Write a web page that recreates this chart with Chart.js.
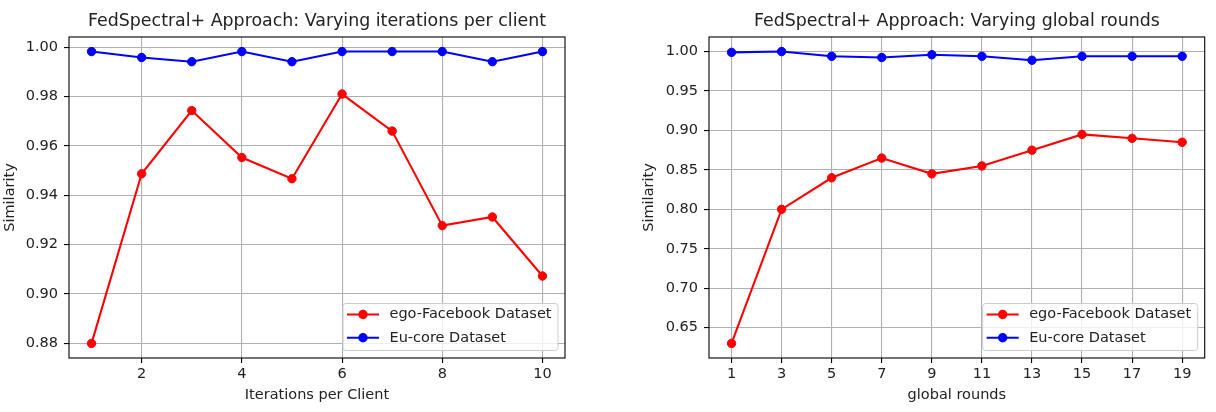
<!DOCTYPE html>
<html>
<head>
<meta charset="utf-8">
<script src="https://cdn.jsdelivr.net/npm/chart.js@4"></script>
<style>
  html, body { margin: 0; padding: 0; background: #fff; }
  #wrap { position: relative; width: 1216px; height: 412px; overflow: hidden; }
  .panel { position: absolute; top: 0; width: 608px; height: 412px; }
  #p1 { left: 0; }
  #p2 { left: 608px; }
</style>
</head>
<body>
<div id="wrap">
  <div class="panel" id="p1"><canvas id="c1" width="608" height="412"></canvas></div>
  <div class="panel" id="p2"><canvas id="c2" width="608" height="412"></canvas></div>
</div>
<script>
// ---- data ----
const iterCats = [1, 2, 3, 4, 5, 6, 7, 8, 9, 10];
const iterFacebook = [0.880, 0.9487, 0.9743, 0.9553, 0.9467, 0.981, 0.966, 0.9277, 0.9312, 0.9073];
const iterEucore = [0.9982, 0.9958, 0.9941, 0.9982, 0.9941, 0.9982, 0.9982, 0.9982, 0.9941, 0.9982];
const iterXTicks = [2, 4, 6, 8, 10];
const iterYTicks = [0.88, 0.90, 0.92, 0.94, 0.96, 0.98, 1.00];

const roundCats = [1, 3, 5, 7, 9, 11, 13, 15, 17, 19];
const roundFacebook = [0.63, 0.80, 0.84, 0.865, 0.845, 0.855, 0.875, 0.895, 0.89, 0.885];
const roundEucore = [0.999, 1.000, 0.994, 0.9925, 0.996, 0.994, 0.989, 0.994, 0.994, 0.994];
const roundXTicks = [1, 3, 5, 7, 9, 11, 13, 15, 17, 19];
const roundYTicks = [0.65, 0.70, 0.75, 0.80, 0.85, 0.90, 0.95, 1.00];

const seriesNames = ['ego-Facebook Dataset', 'Eu-core Dataset'];
const seriesColors = ['#ff0000', '#0000ff'];

const titles = ['FedSpectral+ Approach: Varying iterations per client', 'FedSpectral+ Approach: Varying global rounds'];
const xLabels = ['Iterations per Client', 'global rounds'];
const yLabel = 'Similarity';

// ---- helpers ----
const FONT = "'DejaVu Sans', 'Liberation Sans', sans-serif";
const TXT = '#222';
const FS = 14.5;
const TFS = 17.4;

function pad(lo, hi) { const m = (hi - lo) * 0.05; return [lo - m, hi + m]; }
function toXY(xs, ys) { return xs.map((x, i) => ({ x: x, y: ys[i] })); }

const framePlugin = {
  id: 'frameLegend',
  afterDatasetsDraw(chart) {
    const ctx = chart.ctx, a = chart.chartArea;
    ctx.save();
    // axes frame
    ctx.strokeStyle = '#000';
    ctx.lineWidth = 1.1;
    ctx.strokeRect(a.left, a.top, a.right - a.left, a.bottom - a.top);
    // legend (lower right)
    ctx.font = FS + 'px ' + FONT;
    const ds = chart.data.datasets;
    let tw = 0;
    ds.forEach(d => { tw = Math.max(tw, ctx.measureText(d.label).width); });
    const bw = tw + 53, bh = 47;
    const x1 = a.right - 7 - bw, y1 = a.bottom - 7.5 - bh;
    ctx.beginPath();
    if (ctx.roundRect) ctx.roundRect(x1, y1, bw, bh, 3); else ctx.rect(x1, y1, bw, bh);
    ctx.fillStyle = 'rgba(255,255,255,0.8)';
    ctx.fill();
    ctx.strokeStyle = '#cccccc';
    ctx.lineWidth = 1;
    ctx.stroke();
    ds.forEach((d, i) => {
      const cy = y1 + 11 + 23.3 * i;
      ctx.strokeStyle = d.borderColor;
      ctx.lineWidth = 2.08;
      ctx.beginPath();
      ctx.moveTo(x1 + 4, cy);
      ctx.lineTo(x1 + 36, cy);
      ctx.stroke();
      ctx.fillStyle = d.borderColor;
      ctx.beginPath();
      ctx.arc(x1 + 20, cy, 4.7, 0, Math.PI * 2);
      ctx.fill();
      ctx.fillStyle = TXT;
      ctx.textBaseline = 'middle';
      ctx.textAlign = 'left';
      ctx.fillText(d.label, x1 + 46.5, cy);
    });
    ctx.restore();
  }
};

function makeChart(canvasId, idx, xs, s1, s2, xTicks, yTicks, padL, yW, padR) {
  const xr = pad(Math.min(...xs), Math.max(...xs));
  const allY = s1.concat(s2);
  const yr = pad(Math.min(...allY), Math.max(...allY));
  const mkDs = (vals, k) => ({
    label: seriesNames[k],
    data: toXY(xs, vals),
    borderColor: seriesColors[k],
    backgroundColor: seriesColors[k],
    pointBackgroundColor: seriesColors[k],
    pointBorderColor: seriesColors[k],
    borderWidth: 2.08,
    pointRadius: 4.2,
    pointBorderWidth: 1,
    pointHoverRadius: 4.2,
    tension: 0,
    fill: false
  });
  return new Chart(document.getElementById(canvasId), {
    type: 'line',
    data: { datasets: [mkDs(s1, 0), mkDs(s2, 1)] },
    options: {
      responsive: false,
      animation: false,
      devicePixelRatio: window.devicePixelRatio || 1,
      layout: { padding: { left: padL, right: padR, top: 0, bottom: 5 } },
      plugins: {
        legend: { display: false },
        tooltip: { enabled: false },
        title: {
          display: true,
          text: titles[idx],
          fullSize: false,
          color: TXT,
          font: { family: FONT, size: TFS, weight: 'normal' },
          padding: { top: 11, bottom: 5.1 }
        }
      },
      scales: {
        x: {
          type: 'linear',
          min: xr[0], max: xr[1],
          afterBuildTicks: s => { s.ticks = xTicks.map(v => ({ value: v })); },
          afterFit: s => { s.height = 49; },
          ticks: {
            autoSkip: false, maxRotation: 0, color: TXT, padding: 3,
            font: { family: FONT, size: FS },
            callback: v => String(v)
          },
          grid: { color: '#b0b0b0', lineWidth: 1.1, tickColor: '#000', tickLength: 5, drawTicks: true },
          border: { display: false },
          title: { display: true, text: xLabels[idx], color: TXT, font: { family: FONT, size: FS }, padding: { top: 4, bottom: 3.5 } }
        },
        y: {
          type: 'linear',
          min: yr[0], max: yr[1],
          afterBuildTicks: s => { s.ticks = yTicks.map(v => ({ value: v })); },
          afterFit: s => { s.width = yW; },
          ticks: {
            autoSkip: false, color: TXT, padding: 6,
            font: { family: FONT, size: FS },
            callback: v => Number(v).toFixed(2)
          },
          grid: { color: '#b0b0b0', lineWidth: 1.1, tickColor: '#000', tickLength: 5, drawTicks: true },
          border: { display: false },
          title: { display: true, text: yLabel, color: TXT, font: { family: FONT, size: FS }, padding: { top: 2, bottom: 2 } }
        }
      }
    },
    plugins: [framePlugin]
  });
}

makeChart('c1', 0, iterCats, iterFacebook, iterEucore, iterXTicks, iterYTicks, 0, 69, 43);
makeChart('c2', 1, roundCats, roundFacebook, roundEucore, roundXTicks, roundYTicks, 31, 70, 11.3);
</script>
</body>
</html>
